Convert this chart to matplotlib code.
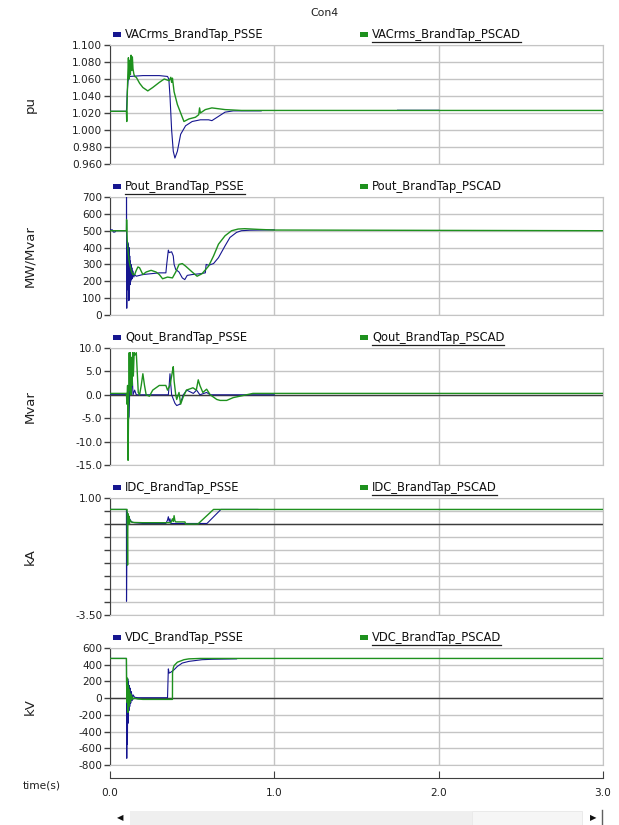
import numpy as np
import matplotlib.pyplot as plt
from matplotlib.patches import Rectangle
from matplotlib.lines import Line2D

nan = np.nan

# ---- data (time in s) ----
vac_psse_t = [0, 0.1, 0.105, 0.11, 0.12, 0.2, 0.3, 0.35, 0.358, 0.365, 0.375, 0.385, 0.395, 0.41, 0.43, 0.46,
              0.5, 0.55, 0.6, 0.62, 0.66, 0.7, 0.75, 0.92, 0.921, 1.75, 2.0]
vac_psse_v = [1.022, 1.022, 1.045, 1.058, 1.063, 1.064, 1.064, 1.063, 1.06, 1.04, 1.0, 0.975, 0.967, 0.975, 0.995,
              1.005, 1.01, 1.012, 1.012, 1.011, 1.016, 1.021, 1.0225, 1.0225, nan, 1.0232, 1.0232]
vac_pscad_t = [0, 0.1, 0.102, 0.105, 0.108, 0.112, 0.116, 0.12, 0.124, 0.128, 0.132, 0.136, 0.14, 0.145, 0.15,
               0.16, 0.18, 0.2, 0.23, 0.26, 0.3, 0.33, 0.36, 0.37, 0.375, 0.38, 0.39, 0.41, 0.43, 0.45, 0.48,
               0.52, 0.54, 0.545, 0.55, 0.58, 0.62, 0.66, 0.7, 0.8, 3.0]
vac_pscad_v = [1.022, 1.022, 1.01, 1.04, 1.062, 1.085, 1.06, 1.082, 1.065, 1.088, 1.07, 1.086, 1.072, 1.066, 1.063,
               1.062, 1.055, 1.05, 1.046, 1.05, 1.056, 1.06, 1.058, 1.062, 1.056, 1.061, 1.045, 1.03, 1.02, 1.01,
               1.013, 1.015, 1.018, 1.026, 1.02, 1.024, 1.026, 1.025, 1.024, 1.023, 1.023]

pout_psse_t = [0, 0.015, 0.02, 0.03, 0.035, 0.1, 0.1005, 0.102, 0.104, 0.106, 0.108, 0.11, 0.112, 0.114, 0.116,
               0.118, 0.12, 0.122, 0.124, 0.126, 0.128, 0.13, 0.133, 0.136, 0.14, 0.145, 0.15, 0.16, 0.2, 0.25,
               0.3, 0.34, 0.345, 0.355, 0.36, 0.375, 0.385, 0.39, 0.4, 0.42, 0.44, 0.455, 0.47, 0.5, 0.55,
               0.58, 0.585, 0.6, 0.63, 0.66, 0.7, 0.73, 0.77, 0.8, 0.85, 1.0]
pout_psse_v = [505, 505, 492, 492, 500, 500, 700, 40, 400, 150, 430, 200, 420, 85, 400,
               90, 350, 180, 320, 200, 300, 210, 280, 215, 260, 225, 240, 230, 240, 245,
               250, 250, 300, 385, 370, 375, 350, 300, 270, 255, 220, 210, 235, 240, 245,
               250, 300, 295, 305, 340, 410, 460, 490, 500, 503, 505]
pout_pscad_t = [0, 0.1, 0.101, 0.105, 0.11, 0.115, 0.12, 0.13, 0.14, 0.15, 0.16, 0.17, 0.18, 0.2, 0.22,
                0.25, 0.28, 0.3, 0.32, 0.35, 0.38, 0.4, 0.42, 0.44, 0.46, 0.5, 0.53, 0.56, 0.6, 0.63,
                0.66, 0.7, 0.74, 0.78, 0.82, 0.9, 1.0, 3.0]
pout_pscad_v = [500, 500, 565, 440, 380, 330, 300, 260, 240, 240, 265, 285, 280, 240, 255,
                265, 255, 240, 215, 225, 220, 255, 300, 305, 290, 255, 230, 245, 290, 350,
                420, 470, 500, 510, 512, 508, 504, 500]

qout_psse_t = [0, 0.1, 0.11, 0.116, 0.12, 0.124, 0.13, 0.134, 0.14, 0.15, 0.16, 0.2, 0.355, 0.36, 0.365,
               0.375, 0.395, 0.406, 0.426, 0.446, 0.467, 0.507, 0.527, 0.547, 0.588, 0.61, 1.0]
qout_psse_v = [0.1, 0.1, -0.5, -4.8, 1, 3, 0.5, 5.2, 0, 1, 0, 0, 0, 2, 4.5,
               0, -1.8, -2.3, -2, 0, 1, 0.3, 1, 0, 0.5, 0, 0]
qout_pscad_t = [0, 0.1, 0.103, 0.107, 0.11, 0.113, 0.117, 0.12, 0.123, 0.127, 0.13, 0.134, 0.138, 0.142, 0.147,
                0.152, 0.16, 0.167, 0.172, 0.18, 0.19, 0.2, 0.21, 0.22, 0.24, 0.26, 0.3, 0.34, 0.35, 0.365,
                0.38, 0.385, 0.39, 0.4, 0.406, 0.42, 0.43, 0.445, 0.465, 0.505, 0.525, 0.537, 0.547, 0.565,
                0.588, 0.61, 0.65, 0.67, 0.71, 0.75, 0.83, 0.87, 3.0]
qout_pscad_v = [0.3, 0.3, -2, 2, -14, -3, 9, 1, 9, 0, 8, 2, 9, 4, 9,
                8.5, 9, 4, 0.5, 0, 2, 4.5, 2, 0, -0.3, 1, 2, 2, 1, 2,
                5, 6, 3, 0, -1, 0.5, -2, -0.5, 1, 1.5, 1, 3.2, 2, 0.5,
                1.2, 0, -1, -1.2, -1.2, -0.6, 0, 0.3, 0.3]

idc_psse_t = [0, 0.1, 0.1005, 0.104, 0.108, 0.112, 0.116, 0.12, 0.13, 0.15, 0.2, 0.34, 0.35, 0.355, 0.36,
              0.365, 0.37, 0.59, 0.675, 0.9]
idc_psse_v = [0.56, 0.56, -2.97, 0.45, 0.1, 0.35, 0.0, 0.2, 0.08, 0.05, 0.02, 0.02, 0.15, 0.28, 0.1,
              0.2, 0.02, 0.02, 0.56, 0.56]
idc_pscad_t = [0, 0.1, 0.104, 0.107, 0.109, 0.112, 0.115, 0.118, 0.122, 0.13, 0.14, 0.2, 0.37, 0.38, 0.385,
               0.39, 0.395, 0.4, 0.456, 0.46, 0.535, 0.63, 3.0]
idc_pscad_v = [0.56, 0.56, 0.56, -1.58, 0.4, 0.1, 0.3, 0.0, 0.15, 0.08, 0.06, 0.05, 0.05, 0.2, 0.1,
               0.32, 0.12, 0.08, 0.08, 0.0, 0.0, 0.56, 0.56]

vdc_psse_t = [0, 0.1, 0.1005, 0.102, 0.104, 0.106, 0.108, 0.11, 0.112, 0.115, 0.118, 0.12, 0.123, 0.126, 0.13,
              0.135, 0.14, 0.15, 0.17, 0.2, 0.35, 0.355, 0.36, 0.37, 0.39, 0.41, 0.44, 0.48, 0.52, 0.56,
              0.62, 0.77]
vdc_psse_v = [475, 475, 340, -720, 230, -550, 230, -300, 200, -150, 150, -100, 120, -60, 80,
              -30, 40, 10, 5, 5, 5, 350, 300, 310, 340, 380, 420, 440, 450, 460,
              465, 470]
vdc_pscad_t = [0, 0.1, 0.1005, 0.103, 0.106, 0.109, 0.112, 0.115, 0.118, 0.122, 0.126, 0.13, 0.135, 0.14, 0.15,
               0.17, 0.2, 0.38, 0.3805, 0.385, 0.39, 0.41, 0.45, 0.48, 0.55, 3.0]
vdc_pscad_v = [475, 475, 250, -50, 240, -170, 150, -100, 100, -50, 50, -20, 15, -10, 0,
               -10, -15, -15, 300, 360, 390, 430, 460, 470, 475, 475]

names = ['VACrms', 'Pout', 'Qout', 'IDC', 'VDC']
ylabels = ['pu', 'MW/Mvar', 'Mvar', 'kA', 'kV']
x_ticks = [0, 1, 2, 3]
x_labels = ['0.0', '1.0', '2.0', '3.0']

W, H = 619, 825
BLUE = '#161690'
GREEN = '#1e911e'
GRID = '#c4c4c4'
DARK = '#404040'


def fx(p):
    return p / W


def fy(p):
    return 1 - p / H


fig = plt.figure(figsize=(6.19, 8.25), dpi=100)
fig.patch.set_facecolor('white')

series = [
    (vac_psse_t, vac_psse_v, vac_pscad_t, vac_pscad_v),
    (pout_psse_t, pout_psse_v, pout_pscad_t, pout_pscad_v),
    (qout_psse_t, qout_psse_v, qout_pscad_t, qout_pscad_v),
    (idc_psse_t, idc_psse_v, idc_pscad_t, idc_pscad_v),
    (vdc_psse_t, vdc_psse_v, vdc_pscad_t, vdc_pscad_v),
]
yticks = [np.arange(0.96, 1.1001, 0.02), np.arange(0, 701, 100), np.arange(-15, 10.1, 5),
          np.arange(-3.5, 1.01, 0.5), np.arange(-800, 601, 200)]
ytlabels = [['%.3f' % v for v in yticks[0]], ['%d' % v for v in yticks[1]], ['%.1f' % v for v in yticks[2]],
            ['-3.50'] + [''] * 8 + ['1.00'], ['%d' % v for v in yticks[4]]]
tops = [45, 197, 348, 498, 648]
hts = [119, 118, 117, 117, 117]
zero_line = [False, False, True, True, True]
# which legend label is underlined: (psse, pscad)
underline = [(False, True), (True, False), (False, True), (False, True), (False, True)]

legend_texts = []
for i in range(5):
    ax = fig.add_axes([fx(110), fy(tops[i] + hts[i]), fx(493), hts[i] / H])
    ts, vs, tc, vc = series[i]
    ax.plot(ts, vs, color=BLUE, lw=0.8, zorder=3)
    ax.plot(tc, vc, color=GREEN, lw=1.0, zorder=4)
    ax.set_xlim(0, 3)
    ax.set_ylim(yticks[i][0], yticks[i][-1])
    ax.set_xticks(x_ticks)
    ax.tick_params(axis='x', length=0, labelbottom=False)
    ax.set_yticks(yticks[i])
    ax.set_yticklabels(ytlabels[i])
    ax.tick_params(axis='y', direction='out', length=4, width=1, color=DARK, labelsize=7.6,
                   labelcolor='#202020', pad=1.5)
    ax.grid(True, color=GRID, lw=1.0, zorder=0)
    ax.set_axisbelow(True)
    if zero_line[i]:
        ax.axhline(0, color='#3c3c3c', lw=1.0, zorder=1)
    for s in ['top', 'right', 'bottom']:
        ax.spines[s].set_color(GRID)
    ax.spines['left'].set_color(DARK)
    fig.text(fx(30), fy(tops[i] + hts[i] / 2), ylabels[i], rotation=90, ha='center', va='center',
             fontsize=9.5, color='#202020')

    ly = tops[i] - 10.5
    fig.patches.append(Rectangle((fx(113), fy(ly + 2.5)), fx(8), 5 / H, transform=fig.transFigure,
                                 facecolor=BLUE, edgecolor='none'))
    fig.patches.append(Rectangle((fx(360), fy(ly + 2.5)), fx(8), 5 / H, transform=fig.transFigure,
                                 facecolor=GREEN, edgecolor='none'))
    t1 = fig.text(fx(125), fy(ly), names[i] + '_BrandTap_PSSE', fontsize=8.3, va='center', color='#101010')
    t2 = fig.text(fx(372), fy(ly), names[i] + '_BrandTap_PSCAD', fontsize=8.3, va='center', color='#101010')
    legend_texts.append((t1, underline[i][0]))
    legend_texts.append((t2, underline[i][1]))

fig.text(fx(324), fy(13), 'Con4', fontsize=7.8, ha='center', va='center', color='#202020')
fig.text(fx(42), fy(786), 'time(s)', fontsize=7.7, ha='center', va='center', color='#202020')

# shared time axis
axt = fig.add_axes([fx(110), fy(778), fx(493), 0.0005])
axt.patch.set_visible(False)
for s in ['top', 'right', 'left']:
    axt.spines[s].set_visible(False)
axt.spines['bottom'].set_color(DARK)
axt.set_xlim(0, 3)
axt.set_yticks([])
axt.set_xticks(x_ticks)
axt.set_xticklabels(x_labels)
axt.tick_params(axis='x', direction='in', length=5, color=DARK, labelsize=7.6, labelcolor='#202020', pad=7)

# scroll bar
fig.patches.append(Rectangle((fx(130), fy(825)), fx(342), 14 / H, transform=fig.transFigure,
                             facecolor='#efefef', edgecolor='none'))
fig.patches.append(Rectangle((fx(472), fy(825)), fx(110), 14 / H, transform=fig.transFigure,
                             facecolor='#f6f6f6', edgecolor='#e4e4e4', lw=0.5))
fig.lines.append(Line2D([fx(602), fx(602)], [fy(810), fy(825)], transform=fig.transFigure,
                        color='#606060', lw=1))
fig.text(fx(120), fy(818), '\u25c0', fontsize=6, ha='center', va='center', color='#101010')
fig.text(fx(593), fy(818), '\u25b6', fontsize=6, ha='center', va='center', color='#101010')

# underline selected legend labels
fig.canvas.draw()
r = fig.canvas.get_renderer()
for t, flag in legend_texts:
    if not flag:
        continue
    bb = t.get_window_extent(r)
    yy = (bb.y0 - 0.5) / H
    fig.lines.append(Line2D([bb.x0 / W, bb.x1 / W], [yy, yy], transform=fig.transFigure,
                            color='#202020', lw=0.9))

fig.savefig('out.png', dpi=100)
